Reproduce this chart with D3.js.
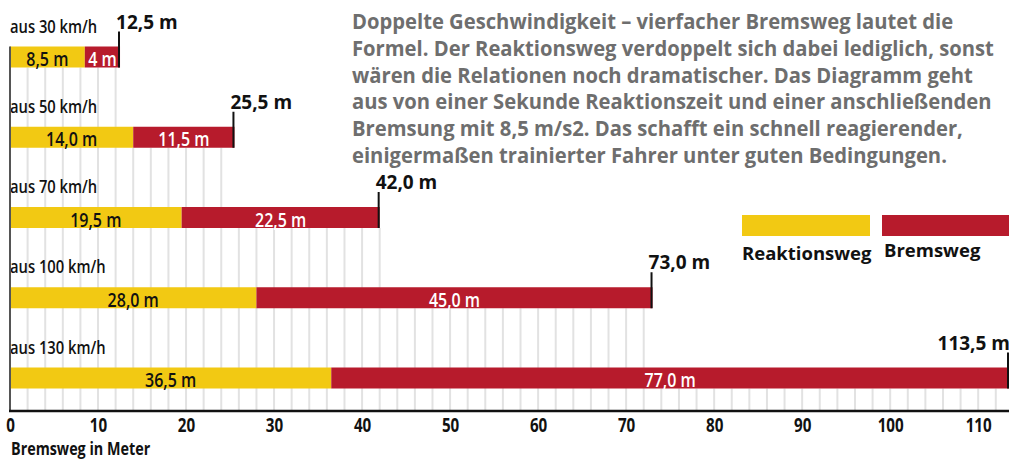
<!DOCTYPE html>
<html>
<head>
<meta charset="utf-8">
<script src="https://cdn.jsdelivr.net/npm/d3@7"></script>
<style>
  html, body { margin: 0; padding: 0; background: #ffffff; }
  svg { display: block; overflow: hidden; }
</style>
</head>
<body>
<script>
// ---------- data ----------
const categories = ["aus 30 km/h", "aus 50 km/h", "aus 70 km/h", "aus 100 km/h", "aus 130 km/h"];
const reaktionsweg = [8.5, 14.0, 19.5, 28.0, 36.5];
const bremsweg = [4.0, 11.5, 22.5, 45.0, 77.0];
const totals = [12.5, 25.5, 42.0, 73.0, 113.5];
const reaktionLabels = ["8,5 m", "14,0 m", "19,5 m", "28,0 m", "36,5 m"];
const bremsLabels = ["4 m", "11,5 m", "22,5 m", "45,0 m", "77,0 m"];
const totalLabels = ["12,5 m", "25,5 m", "42,0 m", "73,0 m", "113,5 m"];
const xTicks = [0, 10, 20, 30, 40, 50, 60, 70, 80, 90, 100, 110];
const legendLabels = ["Reaktionsweg", "Bremsweg"];
const axisTitle = "Bremsweg in Meter";
const paragraph = [
  "Doppelte Geschwindigkeit – vierfacher Bremsweg lautet die",
  "Formel. Der Reaktionsweg verdoppelt sich dabei lediglich, sonst",
  "wären die Relationen noch dramatischer. Das Diagramm geht",
  "aus von einer Sekunde Reaktionszeit und einer anschließenden",
  "Bremsung mit 8,5 m/s2. Das schafft ein schnell reagierender,",
  "einigermaßen trainierter Fahrer unter guten Bedingungen."
];

// ---------- style ----------
const W = 1009, H = 459;
const YELLOW = "#f2c913", RED = "#b71b2c", GRID = "#e2e2e2";
const font = "'Open Sans', 'DejaVu Sans', sans-serif";

// emulate a condensed face: horizontal scale around each text's anchor
function condense(sel, sx) {
  sel.each(function () {
    const t = d3.select(this);
    const tx = +t.attr("x") || 0, ty = +t.attr("y") || 0;
    t.attr("x", 0).attr("y", 0).attr("transform", `translate(${tx},${ty}) scale(${sx},1)`);
  });
}

const svg = d3.select("body").append("svg").attr("width", W).attr("height", H);

const x = d3.scaleLinear().domain([0, 113.5]).range([10, 1009]);
const y = d3.scalePoint().domain(categories).range([46.5, 367.5]);
const barH = 21;
const axisY = 411;

// ---------- gridlines (from axis up to the bar that covers them) ----------
const gridVals = d3.range(2, 113.5, 2);
svg.append("g").selectAll("line").data(gridVals).join("line")
  .attr("x1", d => x(d)).attr("x2", d => x(d))
  .attr("y1", d => { const i = totals.findIndex(t => t >= d); return y(categories[i]) + barH; })
  .attr("y2", axisY)
  .attr("stroke", GRID).attr("stroke-width", 2);

// ---------- bars ----------
const rows = categories.map((c, i) => ({ c, i, r: reaktionsweg[i], b: bremsweg[i], t: totals[i] }));
const gBars = svg.append("g");
gBars.selectAll("rect.r").data(rows).join("rect").attr("class", "r")
  .attr("x", x(0)).attr("y", d => y(d.c))
  .attr("width", d => x(d.r) - x(0)).attr("height", barH).attr("fill", YELLOW);
gBars.selectAll("rect.b").data(rows).join("rect").attr("class", "b")
  .attr("x", d => x(d.r)).attr("y", d => y(d.c))
  .attr("width", d => x(d.r + d.b) - x(d.r)).attr("height", barH).attr("fill", RED);

// segment labels
const rl = gBars.selectAll("text.rl").data(rows).join("text").attr("class", "rl")
  .attr("x", d => (x(0) + x(d.r)) / 2).attr("y", d => y(d.c) + barH - 1.5)
  .attr("text-anchor", "middle").attr("font-family", font).attr("font-weight", 600)
  .attr("font-size", 20).attr("fill", "#111").text(d => reaktionLabels[d.i]);
condense(rl, 0.8);
const bl = gBars.selectAll("text.bl").data(rows).join("text").attr("class", "bl")
  .attr("x", d => (x(d.r) + x(d.r + d.b)) / 2).attr("y", d => y(d.c) + barH - 1.5)
  .attr("text-anchor", "middle").attr("font-family", font).attr("font-weight", 600)
  .attr("font-size", 20).attr("fill", "#ffffff").text(d => bremsLabels[d.i]);
condense(bl, 0.8);

// row labels
const rowL = svg.append("g").selectAll("text").data(rows).join("text")
  .attr("x", 10).attr("y", d => y(d.c) - 14)
  .attr("font-family", font).attr("font-weight", 600).attr("font-size", 18)
  .attr("fill", "#111").text(d => d.c);
condense(rowL, 0.82);

// left axis line
svg.append("line").attr("x1", x(0)).attr("x2", x(0))
  .attr("y1", y(categories[0])).attr("y2", axisY)
  .attr("stroke", "#555").attr("stroke-width", 2);

// total markers and labels
svg.append("g").selectAll("line").data(rows).join("line")
  .attr("x1", d => x(d.t) - 1).attr("x2", d => x(d.t) - 1)
  .attr("y1", d => y(d.c) - 15).attr("y2", d => y(d.c) + barH)
  .attr("stroke", "#111").attr("stroke-width", 2);
const tl = svg.append("g").selectAll("text").data(rows).join("text")
  .attr("y", d => y(d.c) - 18)
  .attr("font-family", font).attr("font-weight", 700).attr("font-size", 19)
  .attr("fill", "#111").text(d => totalLabels[d.i]);
tl.each(function (d) {
  const len = this.getComputedTextLength();
  d3.select(this).attr("x", Math.min(x(d.t) - 4, W + 1 - len));
});

// ---------- x axis ----------
svg.append("line").attr("x1", x(0) - 1).attr("x2", W)
  .attr("y1", axisY).attr("y2", axisY).attr("stroke", "#111").attr("stroke-width", 2.5);
const ax = svg.append("g").attr("transform", `translate(0,${axisY})`)
  .call(d3.axisBottom(x).tickValues(xTicks).tickSize(0).tickPadding(8).tickFormat(d3.format("d")));
ax.select(".domain").remove();
ax.selectAll("text").attr("font-family", font).attr("font-weight", 700)
  .attr("font-size", 19).attr("fill", "#111").attr("transform", "scale(0.8,1)");

const at = svg.append("text").attr("x", 11).attr("y", 455)
  .attr("font-family", font).attr("font-weight", 700).attr("font-size", 17.5)
  .attr("fill", "#111").text(axisTitle);
condense(at, 0.82);

// ---------- legend ----------
const legColors = [YELLOW, RED];
const legX = [742, 882];
const lg = svg.append("g");
lg.selectAll("rect").data(legendLabels).join("rect")
  .attr("x", (d, i) => legX[i]).attr("y", 215).attr("width", 128)
  .attr("height", 21).attr("fill", (d, i) => legColors[i]);
lg.selectAll("text").data(legendLabels).join("text")
  .attr("x", (d, i) => legX[i] + (i === 0 ? 0 : 2)).attr("y", (d, i) => i === 0 ? 260 : 257)
  .attr("font-family", font).attr("font-weight", 700).attr("font-size", 18.5)
  .attr("fill", "#111").text(d => d);

// ---------- paragraph ----------
const pt = svg.append("g").selectAll("text").data(paragraph).join("text")
  .attr("x", 352).attr("y", (d, i) => 29 + i * 26.8)
  .attr("font-family", font).attr("font-weight", 700)
  .attr("font-size", 21.5).attr("fill", "#6e6e6e").text(d => d);
// fit horizontal scale so the first two lines span about the same width as in the original
const n = pt.nodes();
const sx = ((594 / n[0].getComputedTextLength()) + (650 / n[1].getComputedTextLength())) / 2;
condense(pt, sx);
</script>
</body>
</html>
